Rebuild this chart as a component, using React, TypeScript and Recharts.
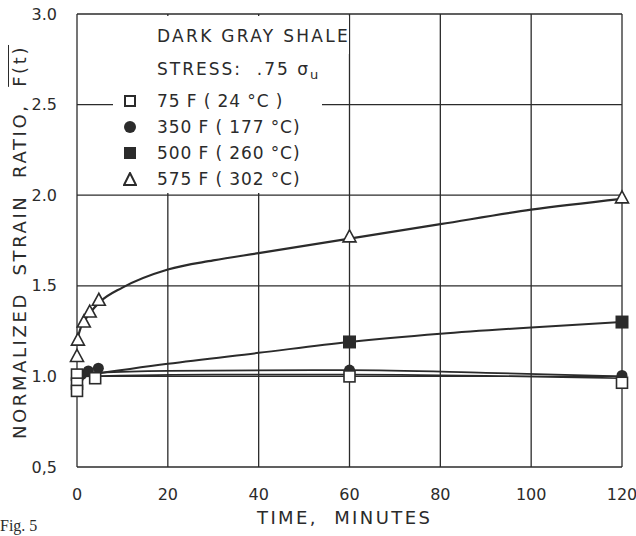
import React from "react";
import {
  ComposedChart,
  Line,
  Scatter,
  XAxis,
  YAxis,
  CartesianGrid,
} from "recharts";

// time (minutes) and normalized strain ratio
const squaresOpen = [
  { t: 0, v: 1.01 },
  { t: 0, v: 0.96 },
  { t: 0, v: 0.92 },
  { t: 4, v: 0.99 },
  { t: 60, v: 1.0 },
  { t: 120, v: 0.965 },
];
const circles = [
  { t: 1, v: 1.01 },
  { t: 2.5, v: 1.03 },
  { t: 4.7, v: 1.045 },
  { t: 60, v: 1.035 },
  { t: 120, v: 1.005 },
];
const squaresFilled = [
  { t: 60, v: 1.19 },
  { t: 120, v: 1.3 },
];
const triangles = [
  { t: 0, v: 1.11 },
  { t: 0.2, v: 1.2 },
  { t: 1.5, v: 1.3 },
  { t: 2.8, v: 1.355 },
  { t: 4.8, v: 1.42 },
  { t: 60, v: 1.77 },
  { t: 120, v: 1.985 },
];

// hand-drawn fit curves, read at a few times
const fit75 = [
  { t: 0, v: 1.0 },
  { t: 30, v: 1.01 },
  { t: 60, v: 1.01 },
  { t: 120, v: 0.99 },
];
const fit350 = [
  { t: 0, v: 1.0 },
  { t: 5, v: 1.02 },
  { t: 20, v: 1.03 },
  { t: 60, v: 1.035 },
  { t: 90, v: 1.02 },
  { t: 120, v: 1.0 },
];
const fit500 = [
  { t: 0, v: 1.0 },
  { t: 20, v: 1.07 },
  { t: 40, v: 1.13 },
  { t: 60, v: 1.19 },
  { t: 80, v: 1.235 },
  { t: 100, v: 1.27 },
  { t: 120, v: 1.3 },
];
const fit575 = [
  { t: 0, v: 1.2 },
  { t: 1, v: 1.28 },
  { t: 2, v: 1.32 },
  { t: 3, v: 1.355 },
  { t: 5, v: 1.41 },
  { t: 10, v: 1.49 },
  { t: 20, v: 1.59 },
  { t: 30, v: 1.64 },
  { t: 40, v: 1.68 },
  { t: 60, v: 1.76 },
  { t: 80, v: 1.84 },
  { t: 100, v: 1.92 },
  { t: 120, v: 1.98 },
];

const xTicks = [0, 20, 40, 60, 80, 100, 120];
const yTicks = [0.5, 1.0, 1.5, 2.0, 2.5, 3.0];
const legendLabels = [
  "75 F ( 24 °C )",
  "350 F ( 177 °C)",
  "500 F ( 260 °C)",
  "575 F ( 302 °C)",
];

const INK = "#2b2b2b";
const FONT = "'DejaVu Sans', sans-serif";

const OpenSquare = (p: any) => (
  <rect x={p.cx - 5.5} y={p.cy - 5.5} width={11} height={11} fill="#fff" stroke={INK} strokeWidth={1.6} />
);
const Dot = (p: any) => <circle cx={p.cx} cy={p.cy} r={5.5} fill={INK} />;
const FilledSquare = (p: any) => (
  <rect x={p.cx - 6.5} y={p.cy - 6.5} width={13} height={13} fill={INK} />
);
const Triangle = (p: any) => (
  <polygon
    points={`${p.cx},${p.cy - 7} ${p.cx - 6.5},${p.cy + 5} ${p.cx + 6.5},${p.cy + 5}`}
    fill="#fff"
    stroke={INK}
    strokeWidth={1.6}
  />
);

const legendMarks = [
  <svg width={14} height={14} key="a"><rect x={2} y={2} width={10} height={10} fill="#fff" stroke={INK} strokeWidth={2} /></svg>,
  <svg width={14} height={14} key="b"><circle cx={7} cy={7} r={6} fill={INK} /></svg>,
  <svg width={14} height={14} key="c"><rect x={1} y={1} width={12} height={12} fill={INK} /></svg>,
  <svg width={14} height={14} key="d"><polygon points="7,1 1,13 13,13" fill="#fff" stroke={INK} strokeWidth={2} /></svg>,
];

export default function App() {
  const txt: React.CSSProperties = {
    position: "absolute",
    fontFamily: FONT,
    fontSize: 17,
    color: INK,
    whiteSpace: "nowrap",
    lineHeight: "20px",
  };
  return (
    <div
      style={{
        position: "absolute",
        left: 0,
        top: 0,
        width: 636,
        height: 536,
        background: "#fff",
        overflow: "hidden",
      }}
    >
      <ComposedChart
        width={636}
        height={536}
        margin={{ top: 14, right: 14, left: 0, bottom: 0 }}
      >
        <CartesianGrid stroke={INK} strokeWidth={1.3} />
        <XAxis
          dataKey="t"
          type="number"
          domain={[0, 120]}
          ticks={xTicks}
          height={69}
          axisLine={false}
          tickLine={false}
          tickMargin={16}
          tick={{ fill: INK, fontSize: 16, fontFamily: FONT }}
        />
        <YAxis
          dataKey="v"
          type="number"
          domain={[0.5, 3.0]}
          ticks={yTicks}
          width={77}
          axisLine={false}
          tickLine={false}
          tickMargin={14}
          tickFormatter={(v: number) => (v === 0.5 ? "0,5" : v.toFixed(1))}
          tick={{ fill: INK, fontSize: 16, fontFamily: FONT }}
        />
        <Line data={fit75} dataKey="v" type="monotone" stroke={INK} strokeWidth={1.6} dot={false} isAnimationActive={false} />
        <Line data={fit350} dataKey="v" type="monotone" stroke={INK} strokeWidth={1.8} dot={false} isAnimationActive={false} />
        <Line data={fit500} dataKey="v" type="monotone" stroke={INK} strokeWidth={2} dot={false} isAnimationActive={false} />
        <Line data={fit575} dataKey="v" type="monotone" stroke={INK} strokeWidth={2.2} dot={false} isAnimationActive={false} />
        <Scatter data={squaresFilled} dataKey="v" shape={FilledSquare} isAnimationActive={false} />
        <Scatter data={circles} dataKey="v" shape={Dot} isAnimationActive={false} />
        <Scatter data={squaresOpen} dataKey="v" shape={OpenSquare} isAnimationActive={false} />
        <Scatter data={triangles} dataKey="v" shape={Triangle} isAnimationActive={false} />
      </ComposedChart>

      {/* legend panel: blanks out the grid behind it */}
      <div style={{ position: "absolute", left: 113, top: 16, width: 236, height: 38, background: "#fff" }} />
      <div style={{ position: "absolute", left: 113, top: 16, width: 209, height: 177, background: "#fff" }} />
      <div style={{ ...txt, left: 157, top: 26, letterSpacing: 2.3 }}>DARK GRAY SHALE</div>
      <div style={{ ...txt, left: 157, top: 59, letterSpacing: 2 }}>
        STRESS:&nbsp; .75 σ<span style={{ fontSize: 13, verticalAlign: -4 }}>u</span>
      </div>
      {legendLabels.map((l, i) => (
        <div key={l} style={{ ...txt, left: 123, top: 91 + i * 26, letterSpacing: 0.9 }}>
          <span style={{ display: "inline-block", width: 34, verticalAlign: -1 }}>{legendMarks[i]}</span>
          {l}
        </div>
      ))}

      <div style={{ ...txt, left: 257, top: 508, fontSize: 18, letterSpacing: 2.4 }}>TIME,&nbsp; MINUTES</div>
      <div
        style={{
          ...txt,
          left: 20,
          top: 242,
          fontSize: 18,
          letterSpacing: 2.6,
          transform: "translate(-50%, -50%) rotate(-90deg)",
        }}
      >
        NORMALIZED&nbsp; STRAIN&nbsp; RATIO,&nbsp; <span style={{ textDecoration: "overline" }}>F(t)</span>
      </div>
      <div style={{ ...txt, left: 0, top: 517, fontFamily: "'Liberation Serif', serif", fontSize: 16, lineHeight: "18px" }}>Fig. 5</div>
    </div>
  );
}
